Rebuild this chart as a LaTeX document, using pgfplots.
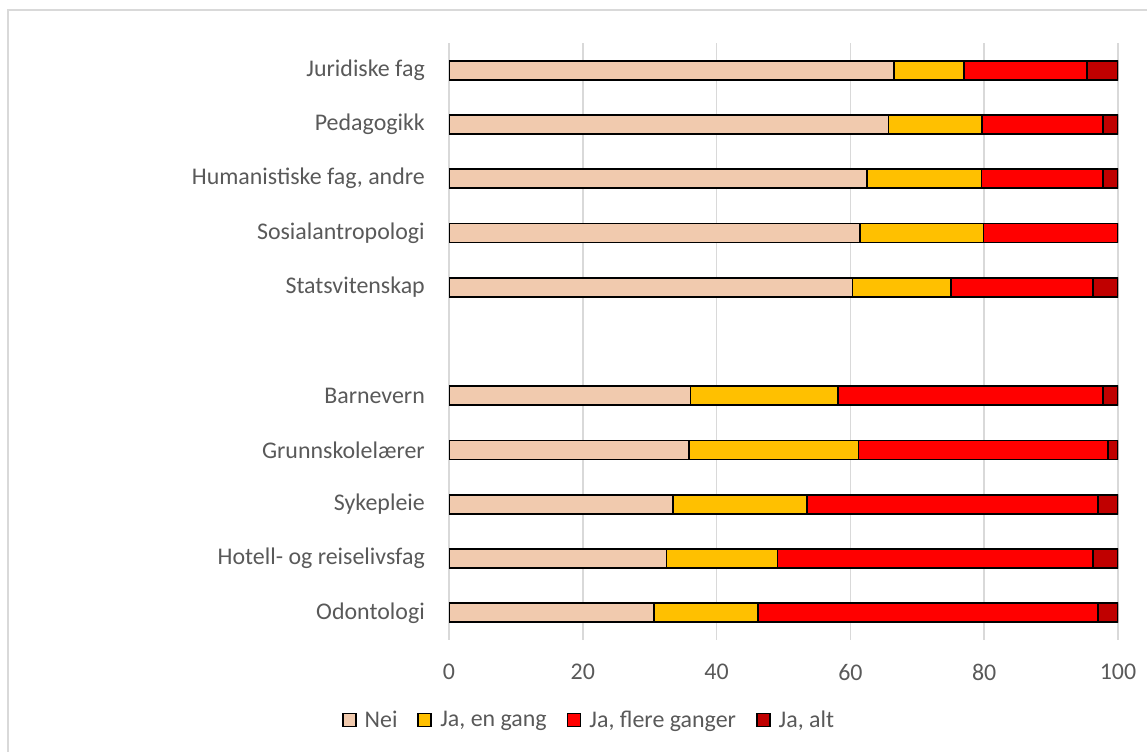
\documentclass[border=0pt]{standalone}
\usepackage{pgfplots}
\pgfplotsset{compat=1.18}
\usepackage{fontspec}
\setmainfont{Carlito}
\definecolor{txt}{HTML}{595959}
\definecolor{grd}{HTML}{D9D9D9}
\definecolor{cnei}{HTML}{F1CAAE}
\definecolor{cen}{HTML}{FFC000}
\definecolor{cflere}{HTML}{FF0000}
\definecolor{calt}{HTML}{C00000}
\begin{document}
\begin{tikzpicture}
\useasboundingbox (0,0) rectangle (1147bp,752bp);
\draw[grd, line width=1.5bp] (8bp,-5bp) -- (8bp,742bp) -- (1160bp,742bp);
\begin{axis}[
  at={(449bp,112bp)}, anchor=south west,
  width=669bp, height=597bp, scale only axis,
  xbar stacked, bar width=19bp,
  xmin=0, xmax=100, ymin=-0.5, ymax=10.5,
  xtick={0,20,...,100},
  ytick={0,1,2,3,4,6,7,8,9,10},
  yticklabels={Odontologi,Hotell- og reiselivsfag,Sykepleie,Grunnskolelærer,Barnevern,Statsvitenskap,Sosialantropologi,{Humanistiske fag, andre},Pedagogikk,Juridiske fag},
  axis line style={draw=none},
  major tick length=0pt,
  xmajorgrids, grid style={grd, line width=1.5bp},
  every tick label/.append style={font=\fontsize{24}{28}\selectfont, text=txt},
  /pgf/number format/assume math mode=true,
  yticklabel style={inner sep=0pt, xshift=-24bp},
  xticklabel style={inner sep=0pt, yshift=-24bp},
  legend columns=4,
  legend style={draw=none, fill=none, at={(0.21,-0.134)}, anchor=center,
    font=\fontsize{24}{28}\selectfont, text=txt,
    nodes={inner sep=3bp},
    /tikz/every even column/.append style={column sep=17bp}},
  legend image code/.code={\draw[#1, draw=black, line width=1.8bp] (0bp,-6.5bp) rectangle (13bp,6.5bp); \path (18bp,0bp);},
  every axis plot/.append style={draw=black, line width=1.8bp},
]
\addplot[fill=cnei] coordinates {(30.7,0) (32.5,1) (33.5,2) (35.9,3) (36.1,4) (60.3,6) (61.4,7) (62.5,8) (65.7,9) (66.5,10)};
\addplot[fill=cen] coordinates {(15.5,0) (16.6,1) (20.0,2) (25.3,3) (22.1,4) (14.7,6) (18.5,7) (17.1,8) (14.0,9) (10.5,10)};
\addplot[fill=cflere] coordinates {(50.8,0) (47.2,1) (43.5,2) (37.3,3) (39.6,4) (21.3,6) (20.1,7) (18.2,8) (18.0,9) (18.4,10)};
\addplot[fill=calt] coordinates {(3.0,0) (3.7,1) (3.0,2) (1.5,3) (2.2,4) (3.7,6) (0.0,7) (2.2,8) (2.3,9) (4.6,10)};
\legend{Nei, {Ja, en gang}, {Ja, flere ganger}, {Ja, alt}}
\end{axis}
\end{tikzpicture}
\end{document}
